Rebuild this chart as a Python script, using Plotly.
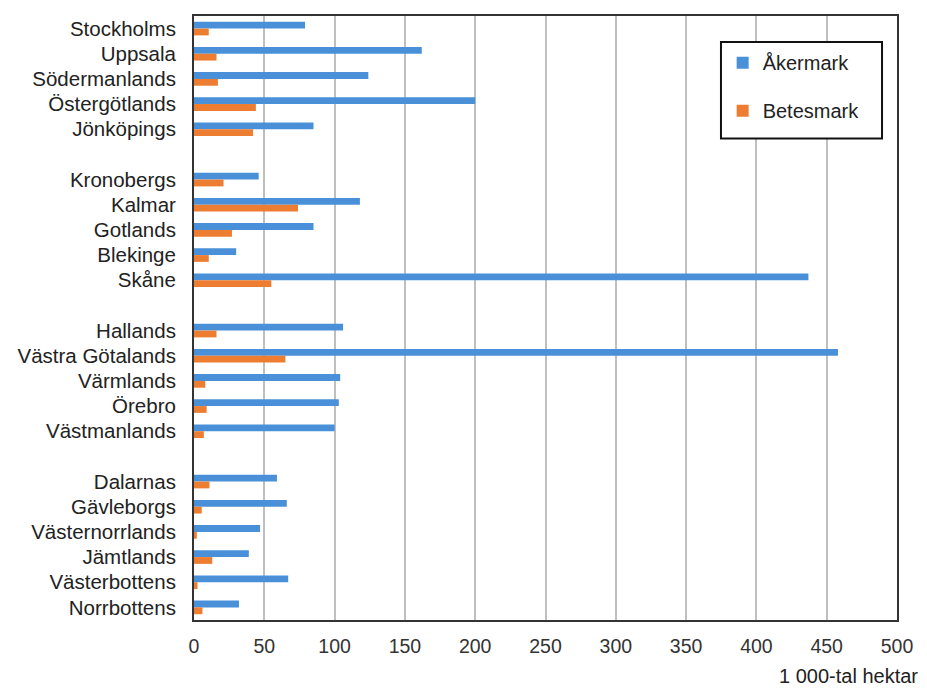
import plotly.graph_objects as go

# Counties in display order, grouped (a blank row separates groups)
groups = [
    ["Stockholms", "Uppsala", "Södermanlands", "Östergötlands", "Jönköpings"],
    ["Kronobergs", "Kalmar", "Gotlands", "Blekinge", "Skåne"],
    ["Hallands", "Västra Götalands", "Värmlands", "Örebro", "Västmanlands"],
    ["Dalarnas", "Gävleborgs", "Västernorrlands", "Jämtlands", "Västerbottens", "Norrbottens"],
]

akermark = {
    "Stockholms": 79, "Uppsala": 162, "Södermanlands": 124, "Östergötlands": 200, "Jönköpings": 85,
    "Kronobergs": 46, "Kalmar": 118, "Gotlands": 85, "Blekinge": 30, "Skåne": 437,
    "Hallands": 106, "Västra Götalands": 458, "Värmlands": 104, "Örebro": 103, "Västmanlands": 100,
    "Dalarnas": 59, "Gävleborgs": 66, "Västernorrlands": 47, "Jämtlands": 39, "Västerbottens": 67,
    "Norrbottens": 32,
}
betesmark = {
    "Stockholms": 10.5, "Uppsala": 16, "Södermanlands": 17, "Östergötlands": 44, "Jönköpings": 42,
    "Kronobergs": 21, "Kalmar": 74, "Gotlands": 27, "Blekinge": 10.5, "Skåne": 55,
    "Hallands": 16, "Västra Götalands": 65, "Värmlands": 8, "Örebro": 9, "Västmanlands": 7,
    "Dalarnas": 11, "Gävleborgs": 5.5, "Västernorrlands": 2, "Jämtlands": 13, "Västerbottens": 2.5,
    "Norrbottens": 6,
}

x_ticks = [0, 50, 100, 150, 200, 250, 300, 350, 400, 450, 500]
unit_label = "1 000-tal hektar"

# Build category order with blank spacer rows between groups
categories = []
for gi, g in enumerate(groups):
    categories.extend(g)
    if gi < len(groups) - 1:
        categories.append(" " * (gi + 1))

counties = [c for g in groups for c in g]

BLUE = "#4A90D9"
ORANGE = "#ED7D31"
FONT = "Liberation Sans, Arial, sans-serif"

fig = go.Figure()
fig.add_trace(go.Bar(
    y=counties, x=[akermark[c] for c in counties], orientation="h",
    name="Åkermark", marker=dict(color=BLUE, line=dict(width=0)),
    legendgroup="a",
))
fig.add_trace(go.Bar(
    y=counties, x=[betesmark[c] for c in counties], orientation="h",
    name="Betesmark", marker=dict(color=ORANGE, line=dict(width=0)),
    legendgroup="b",
))

fig.update_layout(
    width=919, height=681,
    margin=dict(l=186, r=30, t=6, b=69),
    paper_bgcolor="white", plot_bgcolor="white",
    barmode="group", bargap=0.46, bargroupgap=0.0,
    font=dict(family=FONT, size=20, color="#222222"),
    showlegend=True,
    legend=dict(
        x=0.752, y=0.955, xanchor="left", yanchor="top",
        borderwidth=0, bgcolor="rgba(0,0,0,0)",
        font=dict(size=20, color="#222222"),
        traceorder="grouped", tracegroupgap=19,
        itemwidth=30,
    ),
    shapes=[dict(
        type="rect", xref="paper", yref="paper",
        x0=0.7496, x1=0.9787, y0=0.797, y1=0.957,
        line=dict(color="#111111", width=2), fillcolor="white", layer="above",
    )],
    xaxis=dict(
        range=[0, 500], tickvals=x_ticks, ticktext=[str(v) for v in x_ticks],
        showgrid=True, gridcolor="#BFBFBF", gridwidth=1.5,
        showline=True, linecolor="#333333", linewidth=2, mirror=True,
        ticks="", tickfont=dict(size=19.5, color="#333333"), zeroline=False,
        ticklabelstandoff=8,
    ),
    yaxis=dict(
        categoryorder="array", categoryarray=categories, type="category",
        range=[len(categories) - 0.5, -0.5],
        tickvals=categories, ticktext=categories,
        showgrid=False, showline=True, linecolor="#333333", linewidth=2, mirror=True,
        ticks="", tickfont=dict(size=20.5, color="#222222"), ticklabelstandoff=12,
    ),
    annotations=[dict(
        text=unit_label, xref="paper", yref="paper", x=1.033, y=-0.0924,
        xanchor="right", yanchor="middle", showarrow=False,
        font=dict(size=20, color="#222222"),
    )],
)

fig.write_html("out.html")
